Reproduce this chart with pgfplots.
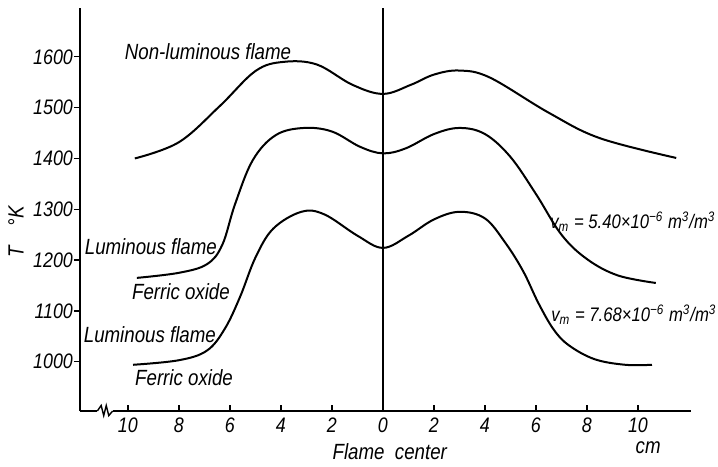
\documentclass[border=0pt]{standalone}
\usepackage{fontspec}
\setmainfont{Liberation Sans}[FakeStretch=0.85]
\usepackage{pgfplots}
\pgfplotsset{compat=1.18}
\newcommand\lab{\fontsize{10.5}{12}\selectfont\itshape}
\newcommand\labb{\fontsize{11}{13}\selectfont\itshape}
\newcommand\labs{\fontsize{9.8}{12}\selectfont\itshape}
\pgfplotsset{curve/.style={black, line width=1pt, smooth, tension=0.6, no marks}}

\begin{document}
\begin{tikzpicture}
\begin{axis}[
  scale only axis,
  width=305.5pt, height=201.5pt,
  xmin=-11.88, xmax=12.08,
  ymin=903, ymax=1696,
  axis x line=bottom, axis y line=left,
  axis line style={-, line width=0.7pt},
  clip=false,
  xtick={-10,-8,-6,-4,-2,0,2,4,6,8,10},
  xticklabels={10,8,6,4,2,0,2,4,6,8,10},
  ytick={1000,1100,1200,1300,1400,1500,1600},
  /pgf/number format/assume math mode=true,
  /pgf/number format/set thousands separator={},
  ticklabel style={font=\lab},
  tick align=inside,
  major tick length=3pt,
  tick style={line width=0.6pt, black},
  y tick style={xshift=-3pt},
]
% vertical line at flame centre
\addplot[black, line width=0.8pt, sharp plot, no marks] coordinates {(0,903) (0,1696)};

% non-luminous flame
\addplot[curve] coordinates {
(-9.73,1400) (-8,1432) (-6.4,1503) (-5,1572) (-3.9,1590) (-2.6,1585)
(-1.2,1545) (0,1527) (1.1,1545) (2,1565) (3,1573) (4.2,1559)
(6.5,1490) (8.5,1440) (11.5,1401)
};

% luminous flame, vm = 5.40e-6
\addplot[curve] coordinates {
(-9.65,1165) (-8,1175) (-6.9,1192) (-6.3,1230) (-5.8,1310) (-5.1,1397)
(-4.2,1446) (-3.1,1460) (-2,1453) (-0.9,1423) (0,1410) (0.9,1420)
(2,1448) (3,1460) (4,1448) (5,1403) (6,1330) (7,1250) (8,1202)
(9.2,1170) (10.7,1155)
};

% luminous flame, vm = 7.68e-6
\addplot[curve] coordinates {
(-9.8,994) (-8,1003) (-6.9,1022) (-6.2,1065) (-5.6,1128) (-5.0,1205)
(-4.3,1262) (-3.2,1295) (-2.3,1290) (-1,1248) (0,1224) (1.0,1248)
(2,1280) (3,1295) (4,1282) (4.8,1234) (5.5,1178) (6.1,1115) (6.7,1063)
(7.3,1032) (8.3,1005) (9.5,994) (10.55,994)
};

% axis break
\draw[white, line width=2pt] (axis cs:-11.2,903) -- (axis cs:-10.6,903);
\draw[line width=0.7pt] (axis cs:-11.2,903) -- (axis cs:-11.05,914) -- (axis cs:-10.95,894)
  -- (axis cs:-10.85,914) -- (axis cs:-10.75,894) -- (axis cs:-10.6,903);

\node[font=\labb] at (axis cs:-6.86,1610) {Non-luminous flame};
\node[font=\labb] at (axis cs:-9.1,1226) {Luminous flame};
\node[font=\labb] at (axis cs:-7.92,1137) {Ferric oxide};
\node[font=\labb] at (axis cs:-9.14,1053) {Luminous flame};
\node[font=\labb] at (axis cs:-7.8,968) {Ferric oxide};
\node[font=\labs] at (axis cs:9.8,1275) {v\textsubscript{m} = 5.40×10\textsuperscript{−6} m\textsuperscript{3}/m\textsuperscript{3}};
\node[font=\labs] at (axis cs:9.84,1092) {v\textsubscript{m} = 7.68×10\textsuperscript{−6} m\textsuperscript{3}/m\textsuperscript{3}};

\node[font=\labb] at (axis cs:0.27,824) {Flame\ \ center};
\node[font=\labb] at (axis cs:10.4,830) {cm};
\node[font=\labb, rotate=90] at (rel axis cs:-0.105,0.444) {T\hspace{0.9em}°K};

\coordinate (bl) at (rel axis cs:-0.1309,-0.1365);
\coordinate (tr) at (rel axis cs:1.0442,1.0199);
\end{axis}
\pgfresetboundingbox
\useasboundingbox (bl) rectangle (tr);
\end{tikzpicture}
\end{document}
